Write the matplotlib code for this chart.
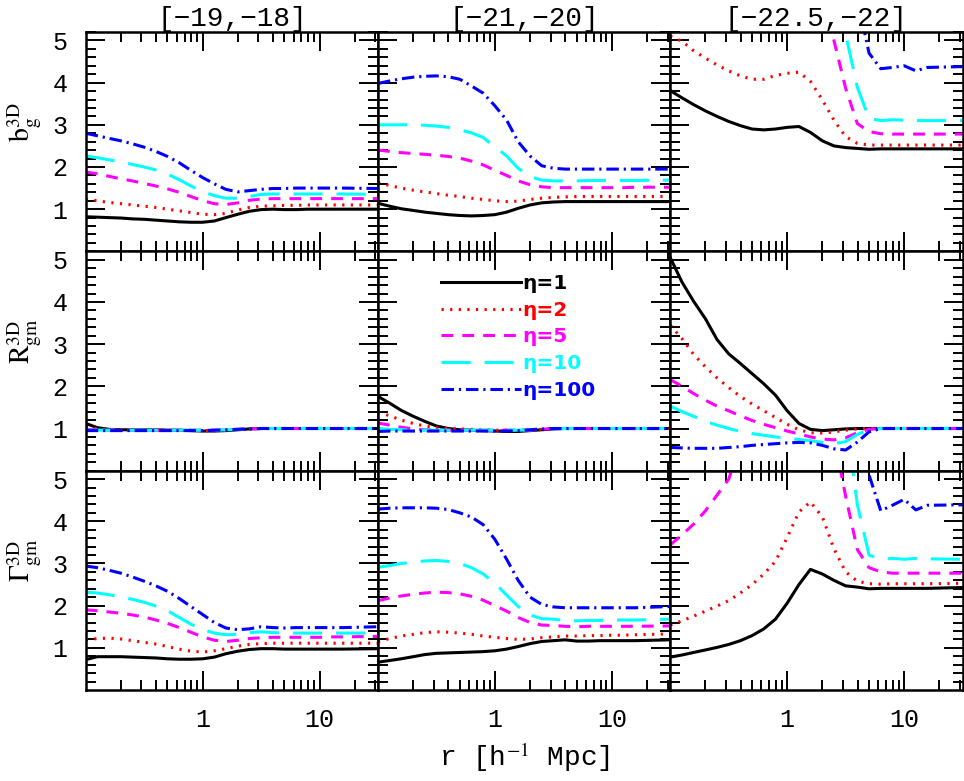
import matplotlib
matplotlib.use('Agg')
import matplotlib.pyplot as plt
from matplotlib.ticker import FixedLocator, NullFormatter, FixedFormatter

# radial grid (h^-1 Mpc)
r = [0.1, 0.126, 0.158, 0.2, 0.251, 0.316, 0.398, 0.501, 0.631, 0.794, 1.0, 1.26,
     1.58, 2.0, 2.51, 3.16, 3.98, 5.01, 6.31, 7.94, 10.0, 12.6, 15.8, 31.6]

col_titles = ['[\u221219,\u221218]', '[\u221221,\u221220]', '[\u221222.5,\u221222]']
row_labels = [r'$\mathrm{b}_{\mathrm{g}}^{\mathrm{3D}}$',
              r'$\mathrm{R}_{\mathrm{gm}}^{\mathrm{3D}}$',
              r'$\Gamma_{\mathrm{gm}}^{\mathrm{3D}}$']
eta_labels = ['\u03b7=1', '\u03b7=2', '\u03b7=5', '\u03b7=10', '\u03b7=100']
x_ticks = [1, 10]
x_ticklabels = ['1', '10']
y_ticks = [1, 2, 3, 4, 5]

# ---- b_g^3D ----
b_m19 = [
    [0.82,0.81,0.80,0.79,0.77,0.76,0.74,0.72,0.70,0.69,0.69,0.72,0.80,0.88,0.95,0.99,1.00,0.99,0.99,1.00,1.00,1.00,1.00,1.00],
    [1.23,1.20,1.16,1.13,1.10,1.07,1.04,1.00,0.96,0.92,0.88,0.87,0.90,0.98,1.04,1.07,1.08,1.09,1.09,1.10,1.10,1.10,1.10,1.10],
    [1.88,1.84,1.78,1.72,1.67,1.61,1.55,1.48,1.40,1.30,1.20,1.13,1.11,1.15,1.21,1.24,1.25,1.25,1.25,1.25,1.25,1.25,1.25,1.25],
    [2.26,2.22,2.17,2.12,2.06,2.00,1.93,1.83,1.70,1.55,1.42,1.32,1.26,1.26,1.30,1.35,1.36,1.36,1.36,1.36,1.36,1.36,1.36,1.35],
    [2.80,2.74,2.68,2.62,2.55,2.47,2.37,2.25,2.10,1.92,1.75,1.60,1.47,1.41,1.44,1.47,1.49,1.49,1.50,1.50,1.50,1.50,1.50,1.49],
]
b_m21 = [
    [1.14,1.07,1.01,0.97,0.93,0.90,0.87,0.85,0.84,0.85,0.87,0.93,1.02,1.10,1.15,1.17,1.18,1.18,1.18,1.18,1.18,1.18,1.18,1.18],
    [1.63,1.56,1.50,1.45,1.41,1.37,1.33,1.30,1.26,1.23,1.20,1.18,1.19,1.23,1.26,1.28,1.29,1.30,1.30,1.30,1.30,1.30,1.30,1.30],
    [2.40,2.37,2.34,2.32,2.30,2.28,2.25,2.21,2.14,2.05,1.92,1.80,1.67,1.58,1.53,1.51,1.51,1.51,1.51,1.51,1.51,1.51,1.52,1.52],
    [3.00,3.00,3.00,3.00,2.99,2.97,2.94,2.88,2.81,2.70,2.48,2.26,1.97,1.77,1.69,1.67,1.67,1.67,1.68,1.68,1.68,1.68,1.68,1.69],
    [3.98,4.04,4.09,4.13,4.15,4.16,4.14,4.08,3.92,3.75,3.45,3.11,2.60,2.26,2.03,1.97,1.95,1.95,1.95,1.95,1.95,1.95,1.95,1.95],
]
b_m22 = [
    [3.81,3.64,3.48,3.33,3.20,3.08,2.98,2.90,2.88,2.90,2.94,2.96,2.82,2.62,2.50,2.46,2.44,2.42,2.43,2.43,2.43,2.43,2.43,2.43],
    [5.10,4.98,4.76,4.58,4.42,4.28,4.16,4.08,4.08,4.17,4.22,4.25,4.03,3.59,3.11,2.72,2.56,2.52,2.52,2.52,2.52,2.52,2.52,2.52],
    [9.0,9.0,9.0,9.0,9.0,9.0,9.0,9.0,9.0,9.0,9.0,8.2,7.2,6.1,5.0,3.87,3.03,2.84,2.79,2.78,2.78,2.78,2.78,2.78],
    [9.0,9.0,9.0,9.0,9.0,9.0,9.0,9.0,9.0,9.0,9.0,9.0,9.0,7.3,6.2,5.15,3.89,3.15,3.10,3.12,3.11,3.10,3.10,3.10],
    [9.0,9.0,9.0,9.0,9.0,9.0,9.0,9.0,9.0,9.0,9.0,9.0,9.0,9.0,9.0,7.2,6.0,4.70,4.33,4.36,4.40,4.28,4.36,4.38],
]
# ---- R_gm^3D ----
R_m19 = [
    [1.12,1.02,0.98,0.97,0.97,0.97,0.97,0.96,0.96,0.95,0.94,0.94,0.95,0.97,0.99,1.00,1.00,1.00,1.00,1.00,1.00,1.00,1.00,1.00],
    [1.04,0.99,0.97,0.96,0.96,0.96,0.96,0.96,0.96,0.96,0.95,0.95,0.96,0.98,0.99,1.00,1.00,1.00,1.00,1.00,1.00,1.00,1.00,1.00],
    [0.98,0.97,0.96,0.96,0.96,0.96,0.96,0.96,0.96,0.96,0.96,0.96,0.97,0.98,0.99,1.00,1.00,1.00,1.00,1.00,1.00,1.00,1.00,1.00],
    [0.96,0.96,0.96,0.96,0.96,0.96,0.96,0.96,0.96,0.96,0.96,0.96,0.97,0.98,0.99,1.00,1.00,1.00,1.00,1.00,1.00,1.00,1.00,1.00],
    [0.95,0.95,0.95,0.95,0.95,0.95,0.95,0.95,0.95,0.95,0.95,0.96,0.97,0.98,0.99,1.00,1.00,1.00,1.00,1.00,1.00,1.00,1.00,1.00],
]
R_m21 = [
    [1.76,1.60,1.43,1.29,1.17,1.06,1.00,0.97,0.96,0.95,0.94,0.93,0.93,0.95,0.97,0.99,1.00,1.00,1.00,1.00,1.00,1.00,1.00,1.00],
    [1.39,1.30,1.20,1.12,1.06,1.02,1.00,0.99,0.98,0.97,0.96,0.96,0.96,0.97,0.98,1.00,1.00,1.00,1.00,1.00,1.00,1.00,1.00,1.00],
    [1.13,1.08,1.03,0.99,0.97,0.96,0.96,0.96,0.96,0.96,0.96,0.96,0.96,0.96,0.98,1.00,1.00,1.00,1.00,1.00,1.00,1.00,1.00,1.00],
    [1.00,0.98,0.97,0.96,0.96,0.96,0.96,0.96,0.96,0.96,0.96,0.96,0.96,0.97,0.99,1.00,1.00,1.00,1.00,1.00,1.00,1.00,1.00,1.00],
    [0.93,0.94,0.94,0.94,0.94,0.94,0.94,0.94,0.94,0.94,0.94,0.94,0.95,0.97,0.99,1.00,1.00,1.00,1.00,1.00,1.00,1.00,1.00,1.00],
]
R_m22 = [
    [5.05,4.47,4.02,3.60,3.11,2.77,2.54,2.30,2.06,1.79,1.42,1.12,0.98,0.95,0.97,0.99,1.00,1.00,1.00,1.00,1.00,1.00,1.00,1.00],
    [3.45,3.13,2.76,2.46,2.20,1.97,1.76,1.58,1.42,1.26,1.10,0.97,0.90,0.89,0.92,0.96,0.99,1.00,1.00,1.00,1.00,1.00,1.00,1.00],
    [2.16,2.00,1.83,1.67,1.53,1.42,1.30,1.19,1.10,1.02,0.94,0.87,0.80,0.75,0.73,0.78,0.90,0.98,1.00,1.00,1.00,1.00,1.00,1.00],
    [1.53,1.40,1.29,1.17,1.08,1.00,0.93,0.88,0.84,0.80,0.77,0.74,0.71,0.67,0.64,0.69,0.86,0.97,1.00,1.00,1.00,1.00,1.00,1.00],
    [0.55,0.54,0.53,0.53,0.53,0.55,0.57,0.60,0.62,0.64,0.66,0.67,0.66,0.60,0.52,0.49,0.68,0.92,1.00,1.00,1.00,1.00,1.00,1.00],
]
# ---- Gamma_gm^3D ----
G_m19 = [
    [0.72,0.79,0.79,0.79,0.78,0.77,0.76,0.74,0.73,0.73,0.74,0.78,0.86,0.92,0.96,0.98,0.98,0.97,0.97,0.97,0.97,0.97,0.97,0.98],
    [1.19,1.22,1.23,1.21,1.17,1.13,1.09,1.03,0.97,0.92,0.90,0.93,0.98,1.04,1.08,1.10,1.11,1.11,1.11,1.11,1.11,1.11,1.11,1.11],
    [1.90,1.88,1.85,1.82,1.78,1.73,1.66,1.58,1.48,1.37,1.26,1.18,1.15,1.18,1.22,1.24,1.25,1.25,1.25,1.25,1.25,1.26,1.26,1.27],
    [2.32,2.30,2.26,2.21,2.15,2.08,1.99,1.88,1.72,1.56,1.43,1.35,1.31,1.32,1.36,1.38,1.36,1.35,1.35,1.35,1.35,1.35,1.35,1.35],
    [2.94,2.90,2.84,2.77,2.68,2.58,2.47,2.34,2.17,1.98,1.79,1.60,1.47,1.43,1.45,1.50,1.48,1.47,1.48,1.48,1.48,1.48,1.48,1.50],
]
G_m21 = [
    [0.66,0.70,0.74,0.79,0.84,0.87,0.88,0.89,0.90,0.91,0.93,0.97,1.03,1.10,1.15,1.17,1.19,1.16,1.16,1.17,1.17,1.17,1.17,1.19],
    [1.15,1.22,1.28,1.32,1.36,1.38,1.37,1.35,1.32,1.28,1.25,1.22,1.20,1.21,1.24,1.26,1.28,1.28,1.29,1.29,1.30,1.30,1.31,1.33],
    [2.12,2.18,2.23,2.27,2.30,2.32,2.31,2.28,2.22,2.13,2.00,1.87,1.72,1.60,1.54,1.53,1.51,1.50,1.51,1.51,1.51,1.51,1.51,1.52],
    [2.91,2.95,3.00,3.03,3.06,3.07,3.05,3.00,2.90,2.75,2.53,2.25,1.98,1.78,1.69,1.68,1.65,1.64,1.65,1.65,1.66,1.66,1.66,1.68],
    [4.29,4.31,4.32,4.32,4.32,4.31,4.28,4.20,4.10,3.92,3.57,3.10,2.60,2.20,2.03,1.97,1.95,1.95,1.95,1.95,1.95,1.95,1.95,1.98],
]
G_m22 = [
    [0.78,0.83,0.89,0.95,1.01,1.08,1.17,1.29,1.45,1.68,2.06,2.50,2.86,2.75,2.60,2.47,2.44,2.40,2.41,2.41,2.41,2.41,2.41,2.43],
    [1.54,1.64,1.75,1.87,1.99,2.12,2.30,2.50,2.75,3.05,3.62,4.22,4.46,4.10,3.35,2.80,2.58,2.52,2.51,2.52,2.52,2.52,2.52,2.53],
    [3.44,3.68,3.93,4.25,4.62,5.00,5.8,6.5,7.0,7.0,7.0,7.0,7.0,7.0,6.0,4.6,3.33,2.90,2.80,2.77,2.77,2.77,2.77,2.77],
    [9.0,9.0,9.0,9.0,9.0,9.0,9.0,9.0,9.0,9.0,9.0,9.0,9.0,9.0,9.0,6.5,4.4,3.20,3.10,3.12,3.10,3.12,3.11,3.10],
    [9.0,9.0,9.0,9.0,9.0,9.0,9.0,9.0,9.0,9.0,9.0,9.0,9.0,9.0,9.0,9.0,7.0,5.10,4.25,4.38,4.52,4.27,4.38,4.39],
]

panels = [[b_m19, b_m21, b_m22], [R_m19, R_m21, R_m22], [G_m19, G_m21, G_m22]]

colors = ['black', '#ff0000', '#ff00ff', '#00ffff', '#0000ff']
styles = ['-', (0, (1.6, 4.6)), (0, (8.5, 6.5)), (0, (21, 10)), (0, (9, 3.5, 1.6, 3.5))]

plt.rcParams['lines.scale_dashes'] = False
plt.rcParams['mathtext.fontset'] = 'stix'
plt.rcParams['font.family'] = ['Liberation Mono', 'DejaVu Sans Mono']

fig, axes = plt.subplots(3, 3, figsize=(9.64, 7.81), dpi=100, sharex=True, sharey=True)
fig.subplots_adjust(left=0.0889, right=0.9985, top=0.959, bottom=0.1165, hspace=0, wspace=0)

minor_x = [0.2, 0.3, 0.4, 0.5, 0.6, 0.7, 0.8, 0.9, 2, 3, 4, 5, 6, 7, 8, 9, 20, 30]
minor_y = [v / 10 for v in range(0, 53, 2) if v % 10 != 0]

for i in range(3):
    for j in range(3):
        ax = axes[i, j]
        for k in range(5):
            ax.plot(r, panels[i][j][k], color=colors[k], linestyle=styles[k],
                    lw=2.2, dash_capstyle='butt', label=eta_labels[k])
        ax.set_xscale('log')
        ax.set_xlim(0.1, 31.6)
        ax.set_ylim(0, 5.2)
        ax.xaxis.set_major_locator(FixedLocator(x_ticks))
        ax.xaxis.set_major_formatter(FixedFormatter(x_ticklabels))
        ax.xaxis.set_minor_locator(FixedLocator(minor_x))
        ax.xaxis.set_minor_formatter(NullFormatter())
        ax.yaxis.set_major_locator(FixedLocator(y_ticks))
        ax.yaxis.set_minor_locator(FixedLocator(minor_y))
        ax.tick_params(which='both', direction='in', top=True, right=True, width=1.4)
        ax.tick_params(which='major', length=13.5, pad=13, labelsize=18)
        ax.tick_params(which='minor', length=7)
        for s in ax.spines.values():
            s.set_linewidth(1.8)
        if i == 0:
            ax.set_title(col_titles[j], fontsize=20, pad=3)
        if j == 0:
            ax.set_ylabel(row_labels[i], fontsize=20)
            ax.yaxis.set_label_coords(-0.145, 0.59)

leg_ax = axes[1, 1]
leg_ax.legend(loc='upper left', bbox_to_anchor=(0.215, 0.897), frameon=False,
              handlelength=4.0, handletextpad=0.05, labelspacing=0.38,
              borderpad=0, borderaxespad=0, labelcolor='linecolor',
              prop=dict(family='DejaVu Sans', weight='bold', size=14.5))

axes[2, 1].set_xlabel(r'r [h$^{-1}$ Mpc]', fontsize=20, labelpad=6)

fig.savefig('out.png', dpi=100)
